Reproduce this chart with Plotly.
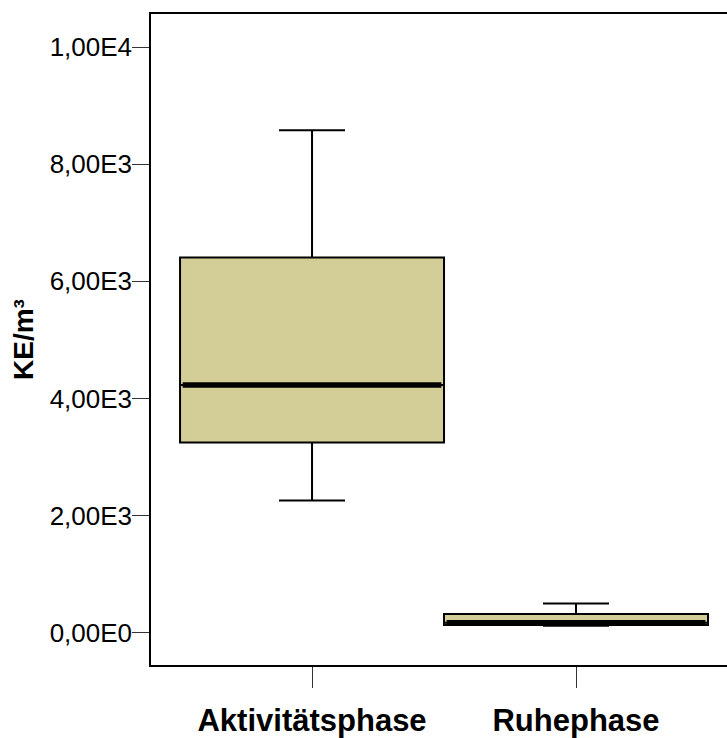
import plotly.graph_objects as go

# Group labels and five-number summaries (KE/m³)
categories = ["Aktivitätsphase", "Ruhephase"]
lower_whisker = [2260, 120]
q1_values = [3250, 135]
median_values = [4230, 172]
q3_values = [6410, 320]
upper_whisker = [8580, 500]

# Y axis tick values and their labels
y_tick_values = [0, 2000, 4000, 6000, 8000, 10000]
y_tick_labels = ["0,00E0", "2,00E3", "4,00E3", "6,00E3", "8,00E3", "1,00E4"]

positions = list(range(len(categories)))
box_fill = "#D3CE98"

fig = go.Figure()

fig.add_trace(go.Box(
    x=positions,
    q1=q1_values,
    median=median_values,
    q3=q3_values,
    lowerfence=lower_whisker,
    upperfence=upper_whisker,
    width=1.0,
    whiskerwidth=0.25,
    fillcolor=box_fill,
    line=dict(color="black", width=2),
    boxpoints=False,
    hoverinfo="skip",
    showlegend=False,
))

# Heavy median bars across each box
for pos, med in zip(positions, median_values):
    fig.add_trace(go.Scatter(
        x=[pos - 0.49, pos + 0.49],
        y=[med, med],
        mode="lines",
        line=dict(color="black", width=5.5),
        hoverinfo="skip",
        showlegend=False,
    ))

fig.update_layout(
    width=727,
    height=738,
    margin=dict(l=151, r=0, t=14, b=66),
    paper_bgcolor="white",
    plot_bgcolor="white",
    font=dict(family="Liberation Sans, Arial, sans-serif", color="black"),
    xaxis=dict(
        range=[-0.61, 1.572],
        tickvals=positions,
        ticktext=categories,
        ticks="outside",
        ticklen=21,
        tickwidth=1,
        tickcolor="#333",
        tickfont=dict(size=31, family="Liberation Sans, Arial, sans-serif", weight="bold"),
        ticklabelstandoff=6,
        showline=True,
        linecolor="black",
        linewidth=1.5,
        mirror=True,
        showgrid=False,
        zeroline=False,
        fixedrange=True,
    ),
    yaxis=dict(
        range=[-549, 10565],
        tickvals=y_tick_values,
        ticktext=y_tick_labels,
        ticks="outside",
        ticklen=17,
        tickwidth=1,
        tickcolor="#333",
        tickfont=dict(size=26),
        ticklabelstandoff=-5,
        showline=True,
        linecolor="black",
        linewidth=1.5,
        showgrid=False,
        zeroline=False,
        title=dict(text="KE/m³", font=dict(size=28, weight="bold"), standoff=8),
        fixedrange=True,
    ),
)

fig.write_html("out.html")
